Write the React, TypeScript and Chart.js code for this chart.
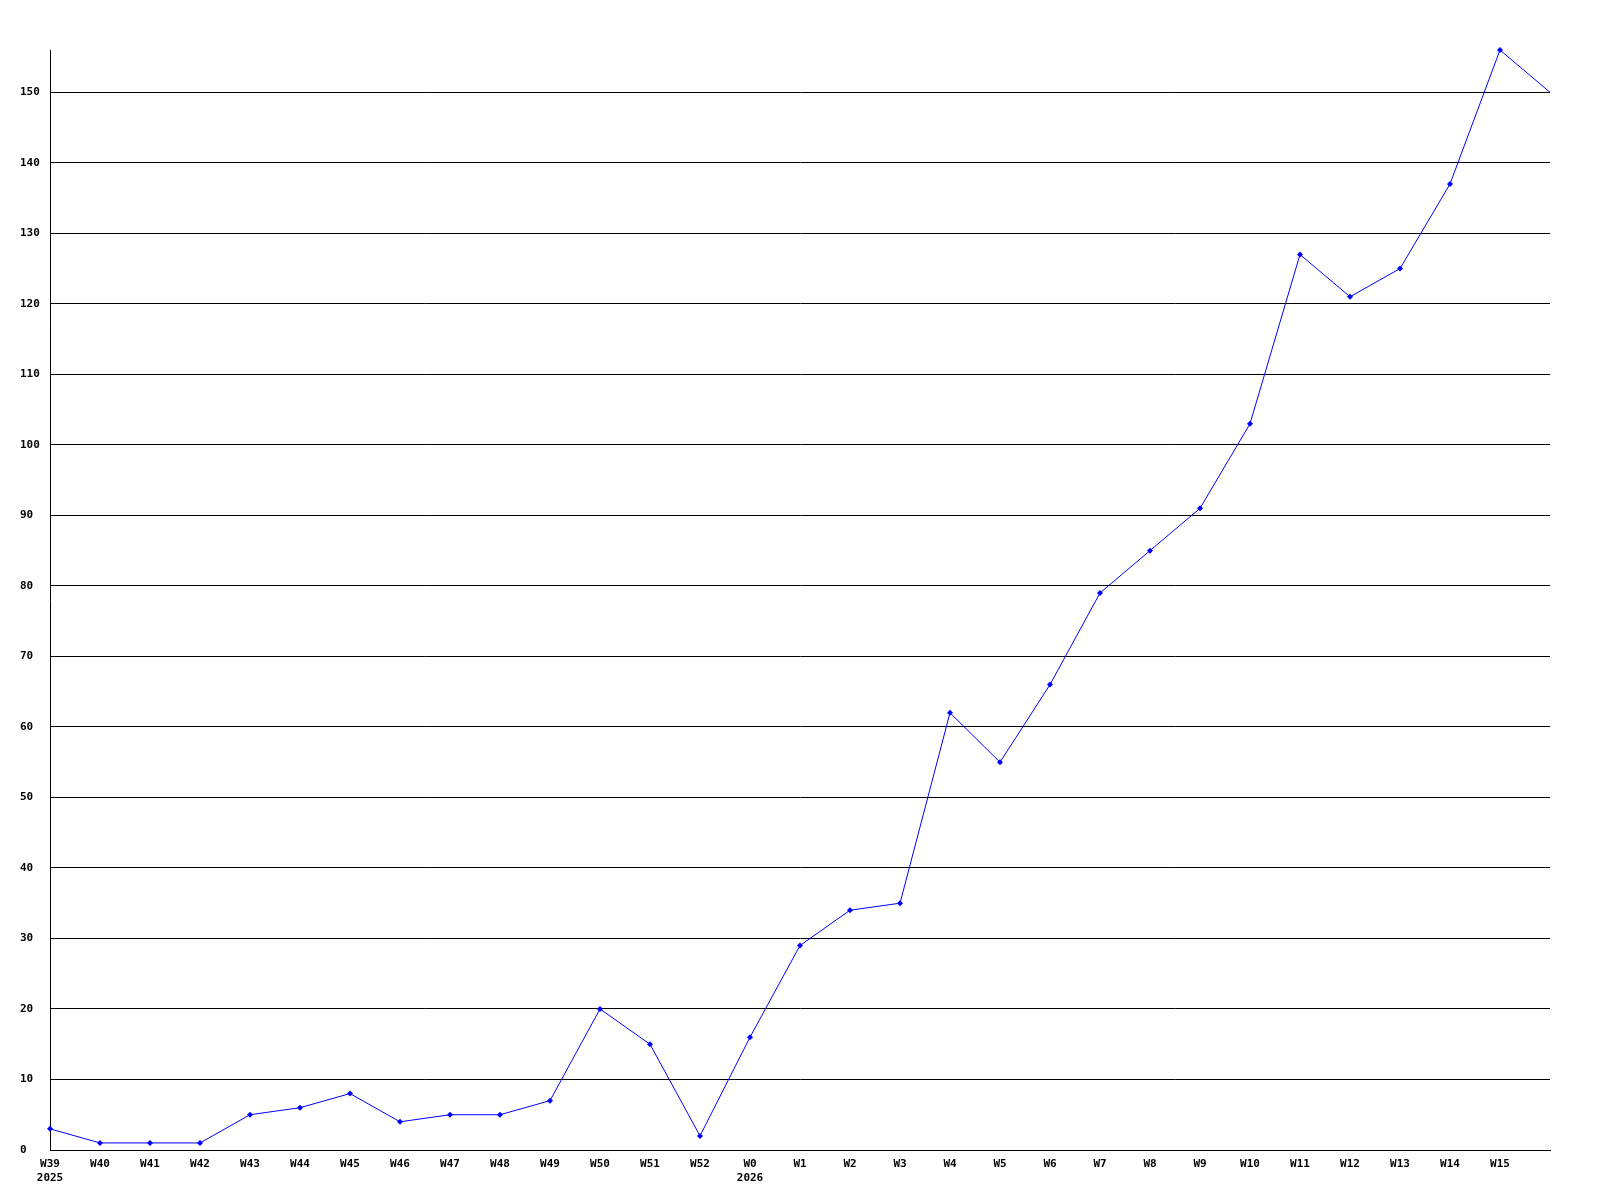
import React, { useEffect, useRef } from "react";
import { Chart, registerables } from "chart.js";

Chart.register(...registerables);

const weekLabels: (string | string[])[] = [
  ["W39", "2025"], "W40", "W41", "W42", "W43", "W44", "W45", "W46", "W47", "W48", "W49", "W50", "W51", "W52",
  ["W0", "2026"], "W1", "W2", "W3", "W4", "W5", "W6", "W7", "W8", "W9", "W10", "W11", "W12", "W13", "W14", "W15", "",
];

const counts: number[] = [
  3, 1, 1, 1, 5, 6, 8, 4, 5, 5, 7, 20, 15, 2,
  16, 29, 34, 35, 62, 55, 66, 79, 85, 91, 103, 127, 121, 125, 137, 156, 150,
];

const yMax = 156;
const yStep = 10;

export default function App() {
  const ref = useRef<HTMLCanvasElement | null>(null);
  useEffect(() => {
    if (!ref.current) return;
    const font = { family: "'DejaVu Sans Mono', monospace", size: 11, weight: "bold" as const };
    const chart = new Chart(ref.current, {
      type: "line",
      data: {
        labels: weekLabels,
        datasets: [
          {
            data: counts,
            borderColor: "#0000ff",
            backgroundColor: "#0000ff",
            borderWidth: 1,
            pointStyle: "rectRot",
            pointRadius: counts.map((_, i) => (i === counts.length - 1 ? 0 : 3)),
            pointBorderWidth: 0,
            tension: 0,
            clip: false as any,
          },
        ],
      },
      options: {
        animation: false,
        responsive: false,
        layout: { padding: { left: 20, right: 50, top: 50, bottom: 0 } },
        plugins: { legend: { display: false }, tooltip: { enabled: false } },
        scales: {
          x: {
            type: "category",
            offset: false,
            grid: { display: false, drawTicks: false },
            border: { display: true, color: "#000", width: 1 },
            ticks: { color: "#000", font, padding: 8, maxRotation: 0, autoSkip: false },
            afterFit: (s: any) => { s.height = 50; },
          },
          y: {
            min: 0,
            max: yMax,
            grid: { color: "#000", lineWidth: 1, drawTicks: false },
            border: { display: true, color: "#000", width: 1 },
            ticks: { stepSize: yStep, includeBounds: false, color: "#000", font, padding: 10, crossAlign: "far" },
            afterFit: (s: any) => { s.width = 30; },
          },
        },
      },
    });
    return () => chart.destroy();
  }, []);
  return (
    <div style={{ position: "fixed", left: 0, top: 0, width: 1600, height: 1200, background: "#fff" }}>
      <canvas ref={ref} width={1600} height={1200} style={{ width: 1600, height: 1200 }} />
    </div>
  );
}
